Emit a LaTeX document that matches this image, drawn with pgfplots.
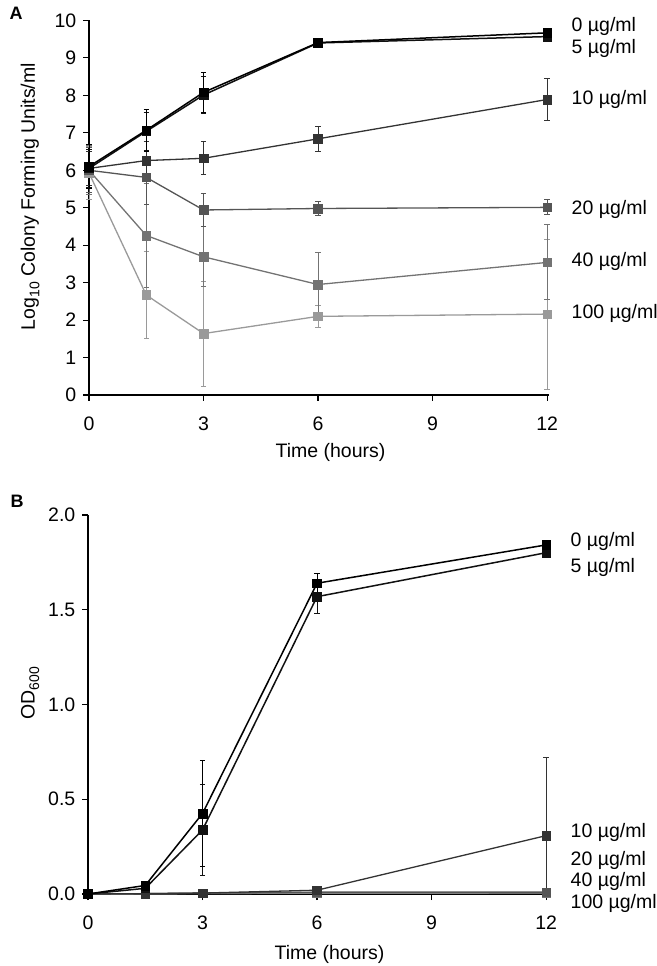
\documentclass[border=0pt]{standalone}
\usepackage{fontspec}
\setmainfont{Liberation Sans}
\usepackage{pgfplots}
\pgfplotsset{compat=1.18}
\usepackage{pgfplotstable}

% Panel A: log10 CFU/ml
\pgfplotstableread{
x y e
0 6.10 0.58
1.5 7.07 0.56
3 8.08 0.53
6 9.41 0.05
12 9.67 0.05
}\Aa
\pgfplotstableread{
x y e
0 6.05 0.50
1.5 7.04 0.50
3 8.01 0.50
6 9.40 0.05
12 9.57 0.05
}\Ab
\pgfplotstableread{
x y e
0 6.05 0.45
1.5 6.26 0.50
3 6.32 0.44
6 6.84 0.33
12 7.89 0.57
}\Ac
\pgfplotstableread{
x y e
0 6.00 0.60
1.5 5.81 0.73
3 4.94 0.43
6 4.98 0.18
12 5.01 0.20
}\Ad
\pgfplotstableread{
x y e
0 6.00 0.65
1.5 4.26 1.38
3 3.69 0.80
6 2.95 0.86
12 3.54 1.00
}\Ae
\pgfplotstableread{
x y e
0 5.93 0.70
1.5 2.67 1.15
3 1.64 1.40
6 2.10 0.30
12 2.16 2.00
}\Af

% Panel B: OD600
\pgfplotstableread{
x y ep em
0 0.000 0 0
1.5 0.045 0.005 0.005
3 0.425 0.280 0.280
6 1.640 0.050 0.050
12 1.842 0.020 0.020
}\Ba
\pgfplotstableread{
x y ep em
0 0.000 0 0
1.5 0.030 0.005 0.005
3 0.338 0.240 0.240
6 1.569 0.090 0.090
12 1.801 0.020 0.020
}\Bb
\pgfplotstableread{
x y ep em
0 0.000 0 0
1.5 0.002 0 0
3 0.005 0 0
6 0.020 0.005 0.005
12 0.308 0.410 0.308
}\Bc
\pgfplotstableread{
x y ep em
0 0.000 0 0
1.5 0.002 0 0
3 0.005 0 0
6 0.010 0 0
12 0.010 0 0
}\Bd
\pgfplotstableread{
x y ep em
0 0.000 0 0
1.5 0.002 0 0
3 0.004 0 0
6 0.006 0 0
12 0.006 0 0
}\Be
\pgfplotstableread{
x y ep em
0 0.000 0 0
1.5 0.001 0 0
3 0.003 0 0
6 0.004 0 0
12 0.005 0 0
}\Bf

\definecolor{cA}{HTML}{000000}
\definecolor{cB}{HTML}{111111}
\definecolor{cC}{HTML}{333333}
\definecolor{cD}{HTML}{555555}
\definecolor{cE}{HTML}{737373}
\definecolor{cF}{HTML}{9A9A9A}

\pgfplotsset{
  base/.style={
    scale only axis, width=460pt,
    xmin=0, xmax=12.05, xtick={0,3,6,9,12},
    axis x line*=bottom, axis y line*=left,
    tick align=outside, major tick length=6pt,
    every tick/.style={black, line width=1.1pt},
    axis line style={black, line width=1.3pt},
    clip=false,
    /pgf/number format/assume math mode=true,
    xticklabel style={yshift=-9pt},
    xlabel={Time (hours)},
  },
  ser/.style 2 args={color=#1, line width=#2, mark=square*, mark size=4.3pt,
    mark options={solid, fill=#1, draw=#1, line width=0.5pt},
    error bars/y dir=both, error bars/y explicit,
    error bars/error bar style={line width=1pt, #1},
    error bars/error mark options={rotate=90, mark size=2.6pt, line width=1pt, #1}},
}

\begin{document}
\fontsize{19.5}{23}\selectfont
\begin{tikzpicture}
\path[use as bounding box] (0,0) rectangle (656pt,966pt);

\node[anchor=base west, font=\bfseries\fontsize{18}{20}\selectfont] at (3pt,946pt) {A};
\node[anchor=base west, font=\bfseries\fontsize{18}{20}\selectfont] at (4pt,458pt) {B};

\begin{axis}[base,
  at={(89pt,571pt)}, anchor=south west,
  height=374.5pt,
  ymin=0, ymax=10, ytick={0,1,...,10},
  xlabel style={at={(axis description cs:0.525,0)}, anchor=center, yshift=-57pt},
  ylabel={Log\raisebox{-4.5pt}{\fontsize{14}{16}\selectfont 10} Colony Forming Units/ml},
  ylabel style={at={(axis description cs:-0.128,0.53)}, anchor=center},
]
\addplot[ser={cF}{1.3pt}] table[x=x,y=y,y error=e] {\Af};
\addplot[ser={cE}{1.3pt}] table[x=x,y=y,y error=e] {\Ae};
\addplot[ser={cD}{1.3pt}] table[x=x,y=y,y error=e] {\Ad};
\addplot[ser={cC}{1.3pt}] table[x=x,y=y,y error=e] {\Ac};
\addplot[ser={cB}{1.5pt}] table[x=x,y=y,y error=e] {\Ab};
\addplot[ser={cA}{1.5pt}] table[x=x,y=y,y error=e] {\Aa};
\node[anchor=base west] at (axis cs:12.47,9.70) {0 µg/ml};
\node[anchor=base west] at (axis cs:12.47,9.12) {5 µg/ml};
\node[anchor=base west] at (axis cs:12.47,7.77) {10 µg/ml};
\node[anchor=base west] at (axis cs:12.47,4.81) {20 µg/ml};
\node[anchor=base west] at (axis cs:12.47,3.43) {40 µg/ml};
\node[anchor=base west] at (axis cs:12.47,2.05) {100 µg/ml};
\end{axis}

\begin{axis}[base,
  at={(88pt,72pt)}, anchor=south west,
  height=379pt,
  ymin=0, ymax=2, ytick={0,0.5,1,1.5,2},
  yticklabel style={/pgf/number format/fixed, /pgf/number format/fixed zerofill, /pgf/number format/precision=1},
  xlabel style={at={(axis description cs:0.525,0)}, anchor=center, yshift=-60pt},
  ylabel={OD\raisebox{-4.5pt}{\fontsize{14}{16}\selectfont 600}},
  ylabel style={at={(axis description cs:-0.126,0.53)}, anchor=center},
]
\addplot[ser={cF}{1.3pt}] table[x=x,y=y,y error plus=ep,y error minus=em] {\Bf};
\addplot[ser={cE}{1.3pt}] table[x=x,y=y,y error plus=ep,y error minus=em] {\Be};
\addplot[ser={cD}{1.3pt}] table[x=x,y=y,y error plus=ep,y error minus=em] {\Bd};
\addplot[ser={cC}{1.3pt}] table[x=x,y=y,y error plus=ep,y error minus=em] {\Bc};
\addplot[ser={cB}{1.5pt}] table[x=x,y=y,y error plus=ep,y error minus=em] {\Bb};
\addplot[ser={cA}{1.5pt}] table[x=x,y=y,y error plus=ep,y error minus=em] {\Ba};
\node[anchor=base west] at (axis cs:12.47,1.833) {0 µg/ml};
\node[anchor=base west] at (axis cs:12.47,1.696) {5 µg/ml};
\node[anchor=base west] at (axis cs:12.47,0.297) {10 µg/ml};
\node[anchor=base west] at (axis cs:12.47,0.153) {20 µg/ml};
\node[anchor=base west] at (axis cs:12.47,0.042) {40 µg/ml};
\node[anchor=base west] at (axis cs:12.47,-0.075) {100 µg/ml};
\end{axis}
\end{tikzpicture}
\end{document}
